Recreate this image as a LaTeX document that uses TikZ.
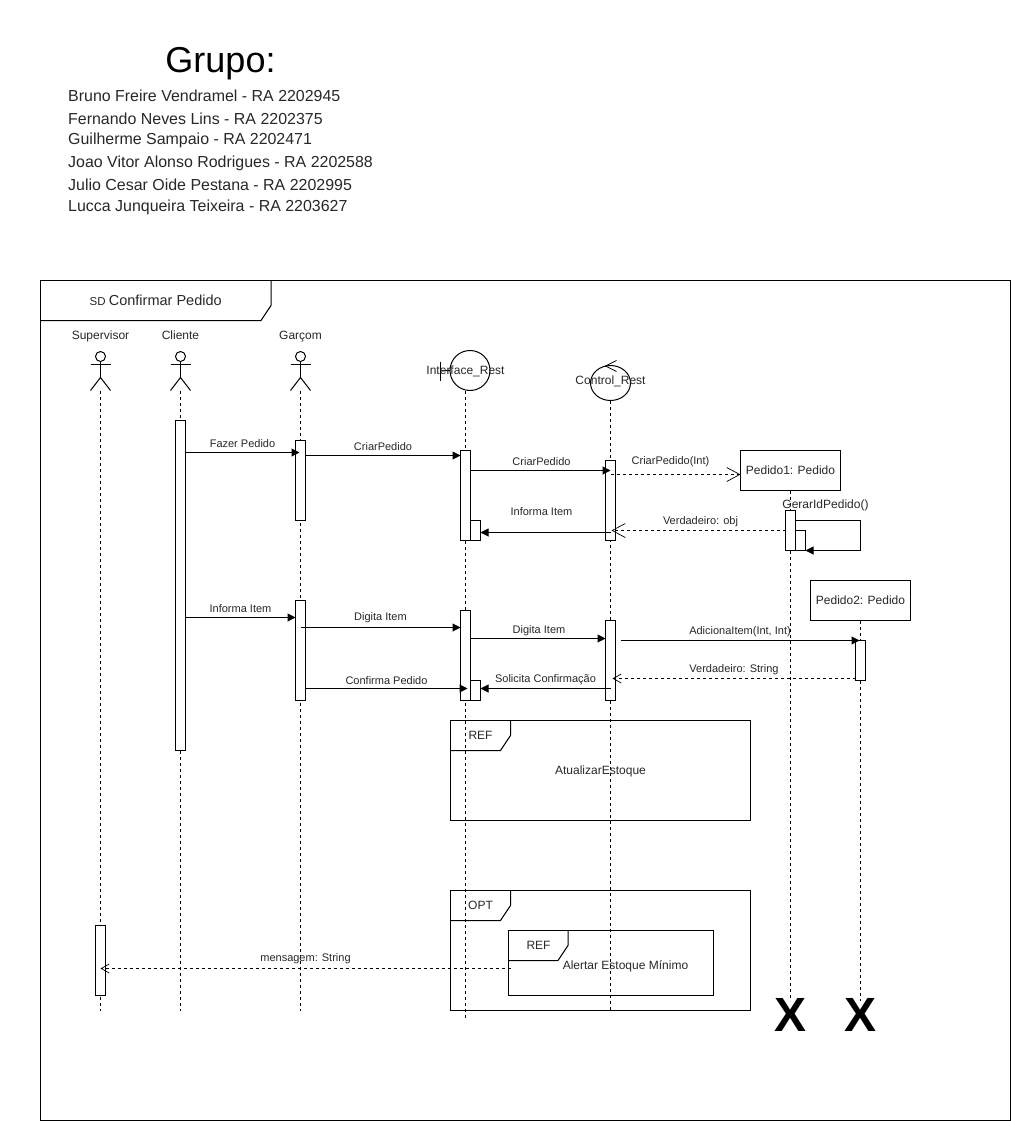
\documentclass[tikz,border=0pt]{standalone}
\usepackage{fontspec}
\setmainfont{Liberation Sans}
\usetikzlibrary{arrows.meta,shapes.geometric}
\definecolor{txt}{RGB}{40,40,40}
\tikzset{
  base/.style={line width=1pt,draw=black},
  life/.style={line width=1pt,dash pattern=on 3pt off 3pt},
  actbox/.style={draw=black,line width=1pt,fill=white,minimum width=10pt,inner sep=0pt,outer sep=0pt},
  objbox/.style={draw=black,line width=1pt,fill=white,minimum width=100pt,minimum height=40pt,inner sep=0pt,outer sep=0pt,font=\fontsize{12}{14}\selectfont,text=txt},
  lbl/.style={font=\fontsize{11}{13}\selectfont,text=txt,inner sep=0pt},
  lblb/.style={font=\fontsize{12}{14}\selectfont,text=txt,inner sep=0pt},
  msg/.style={line width=1pt,-{Triangle[length=8pt,width=8pt]}},
  ret/.style={line width=.8pt,dash pattern=on 3pt off 3pt,-{Straight Barb[length=8pt,width=9pt,line width=.7pt]}},
  retbig/.style={line width=.8pt,dash pattern=on 3pt off 3pt,-{Straight Barb[length=13pt,width=14pt,line width=.7pt]}},
  names/.style={font=\fontsize{15.95}{18}\selectfont,text=txt,inner sep=0pt,anchor=west},
  bigx/.style={font=\bfseries\fontsize{48}{50}\selectfont,inner sep=0pt,text=black},
  head/.style={draw=black,line width=1pt,circle,minimum size=10pt,inner sep=0pt,outer sep=0pt},
  framel/.style={line width=1pt,draw=black},
}
\newcommand{\stick}[3]{%
  \node[head] (#1) at (#2,356) {};
  \node[lblb,anchor=base] (#1L) at (#2,339) {#3};
  \coordinate (#1F) at (#2,390);
  \draw[base] (#1.south) -- (#2,377);
  \draw[base] (#2-10,363.5) -- (#2+10,363.5);
  \draw[base] (#2-10,390) -- (#2,377) -- (#2+10,390);
}
\begin{document}
\begin{tikzpicture}[x=1pt,y=-1pt]
\useasboundingbox (0,0) rectangle (1011,1121);
\fill[white] (0,0) rectangle (1011,1121);
\begin{scope}[xshift=.5pt,yshift=-.5pt]
% header
\node[font=\fontsize{36}{40}\selectfont,text=black,inner sep=0pt] (title) at (220,63) {Grupo:};
\node[names] (n1) at (67.5,95) {Bruno Freire Vendramel - RA 2202945};
\node[names] (n2) at (67.5,118) {Fernando Neves Lins - RA 2202375};
\node[names] (n3) at (67.5,140) {Guilherme Sampaio - RA 2202471};
\node[names] (n4) at (67.5,162.5) {Joao Vitor Alonso Rodrigues - RA 2202588};
\node[names] (n5) at (67.5,184) {Julio Cesar Oide Pestana - RA 2202995};
\node[names] (n6) at (67.5,206.5) {Lucca Junqueira Teixeira - RA 2203627};
% main frame
\draw[framel] (40,280) rectangle (1010,1120);
\draw[framel] (40,320) -- (260.5,320) -- (270.5,305) -- (270.5,280);
\node[inner sep=0pt,text=txt,anchor=west] (sdt) at (89,300) {\fontsize{11.5}{13}\selectfont SD\ \fontsize{14.5}{15}\selectfont Confirmar Pedido};
% actors
\stick{sup}{100}{Supervisor}
\stick{cli}{180}{Cliente}
\stick{gar}{300}{Garçom}
% boundary
\node[draw=black,line width=1pt,circle,minimum size=40pt,inner sep=0pt,outer sep=0pt] (ifc) at (469.5,370) {};
\coordinate (ifcbar) at (440,370.5);
\draw[base] (440,361) -- (440,380);
\draw[base] (ifcbar) -- (ifc.west);
% control
\node[draw=black,line width=1pt,ellipse,minimum width=40pt,minimum height=35pt,inner sep=0pt,outer sep=0pt] (ctl) at (610,382.5) {};
\draw[line width=.8pt] (616,360) -- (605,365.5) -- (616,371);
% objects
\node[objbox] (p1) at (790,470) {Pedido1: Pedido};
\node[objbox] (p2) at (860,600) {Pedido2: Pedido};
% lifelines
\coordinate (supE) at (100,1010);
\coordinate (cliE) at (180,1010);
\coordinate (garE) at (300,1010);
\coordinate (ifcE) at (465,1018);
\coordinate (ifcS) at (465,390);
\coordinate (ctlE) at (610,1010);
\coordinate (p1E) at (790,1000);
\coordinate (p2E) at (860,1000);
\draw[life] (supF) -- (supE);
\draw[life] (cliF) -- (cliE);
\draw[life] (garF) -- (garE);
\draw[life] (ifcS) -- (ifcE);
\draw[life] (ctl.south) -- (ctlE);
\draw[life] (p1.south) -- (p1E);
\draw[life] (p2.south) -- (p2E);
% labels over lifeline heads
\node[lblb] (ifcL) at (465,370.7) {Interface\_Rest};
\node[lblb] (ctlL) at (610,380.7) {Control\_Rest};
% activations
\node[actbox,minimum height=330pt] (aCli) at (180,585) {};
\node[actbox,minimum height=80pt] (aGar1) at (300,480) {};
\node[actbox,minimum height=100pt] (aGar2) at (300,650) {};
\node[actbox,minimum height=90pt] (aIf1) at (465,495) {};
\node[actbox,minimum height=20pt] (aIf1b) at (475,530) {};
\node[actbox,minimum height=90pt] (aIf2) at (465,655) {};
\node[actbox,minimum height=20pt] (aIf2b) at (475,690) {};
\node[actbox,minimum height=80pt] (aCt1) at (610,500) {};
\node[actbox,minimum height=80pt] (aCt2) at (610,660) {};
\node[actbox,minimum height=40pt] (aP1) at (790,530) {};
\node[actbox,minimum height=20pt] (aP1b) at (800,540) {};
\node[actbox,minimum height=40pt] (aP2) at (860,660) {};
\node[actbox,minimum height=70pt] (aSup) at (100,960) {};
% ref frame
\draw[framel] (450,720) rectangle (750,820);
\draw[framel] (450,750) -- (500,750) -- (510,735) -- (510,720);
\node[lblb] (refA) at (480,734.5) {REF};
\node[lblb] (refAT) at (600,770.7) {AtualizarEstoque};
% opt frame
\draw[framel] (450,890) rectangle (750,1010);
\draw[framel] (450,920) -- (500,920) -- (510,905) -- (510,890);
\node[lblb] (opt) at (480,904.5) {OPT};
\node[draw=black,line width=1pt,minimum width=205pt,minimum height=65pt,inner sep=0pt,outer sep=0pt] (refB) at (610,962.5) {};
\draw[framel] (507.5,960) -- (557.5,960) -- (567.5,945) -- (567.5,930);
\node[lblb] (refBL) at (538,944.5) {REF};
\node[lblb] (refBT) at (625,965.7) {Alertar Estoque Mínimo};
% messages
\draw[msg] (aCli.east |- 0,452) -- node[lbl,above=4pt,pos=.5]{Fazer Pedido} (299,452);
\draw[msg] (aGar1.east |- 0,455) -- node[lbl,above=4pt]{CriarPedido} (aIf1.west |- 0,455);
\draw[msg] (aIf1.east |- 0,470) -- node[lbl,above=4pt,xshift=1pt]{CriarPedido} (aCt1.center |- 0,470);
\draw[retbig] (aCt1.center |- 0,474) -- node[lbl,above=7pt,xshift=-5pt]{CriarPedido(Int)} (p1.west |- 0,474);
\draw[msg] (aCt1.center |- 0,532) -- node[lbl,above=16pt,xshift=-4pt]{Informa Item} (aIf1b.east |- 0,532);
\draw[retbig] (aP1.west |- 0,530) -- node[lbl,above=3pt,xshift=2pt]{Verdadeiro: obj} (611,530);
\draw[line width=1pt,-{Triangle[length=8pt,width=8pt]}] (aP1.east |- 0,520) -- (860,520) -- (860,550) -- (aP1b.east |- 0,550);
\node[lblb] (gip) at (825,505) {GerarIdPedido()};
\draw[msg] (aCli.east |- 0,617) -- node[lbl,above=4pt]{Informa Item} (aGar2.west |- 0,617);
\draw[msg] (300,627) -- node[lbl,above=4pt]{Digita Item} (aIf2.west |- 0,627);
\draw[msg] (aIf2.east |- 0,638) -- node[lbl,above=2pt,xshift=1pt]{Digita Item} (aCt2.west |- 0,638);
\draw[msg] (620,640) -- node[lbl,above=3pt]{AdicionaItem(Int, Int)} (859,640);
\draw[ret] (aP2.west |- 0,678) -- node[lbl,above=3pt]{Verdadeiro: String} (612,678);
\draw[msg] (610,688) -- node[lbl,above=3pt]{Solicita Confirmação} (aIf2b.east |- 0,688);
\draw[msg] (aGar2.east |- 0,688) -- node[lbl,above=3pt]{Confirma Pedido} (467,688);
\draw[ret] (510,968) -- node[lbl,above=4pt]{mensagem: String} (aSup.center |- 0,968);
% destroy marks
\node[bigx] (x1) at (790,1014) {X};
\node[bigx] (x2) at (860,1014) {X};
\end{scope}
\end{tikzpicture}
\end{document}
